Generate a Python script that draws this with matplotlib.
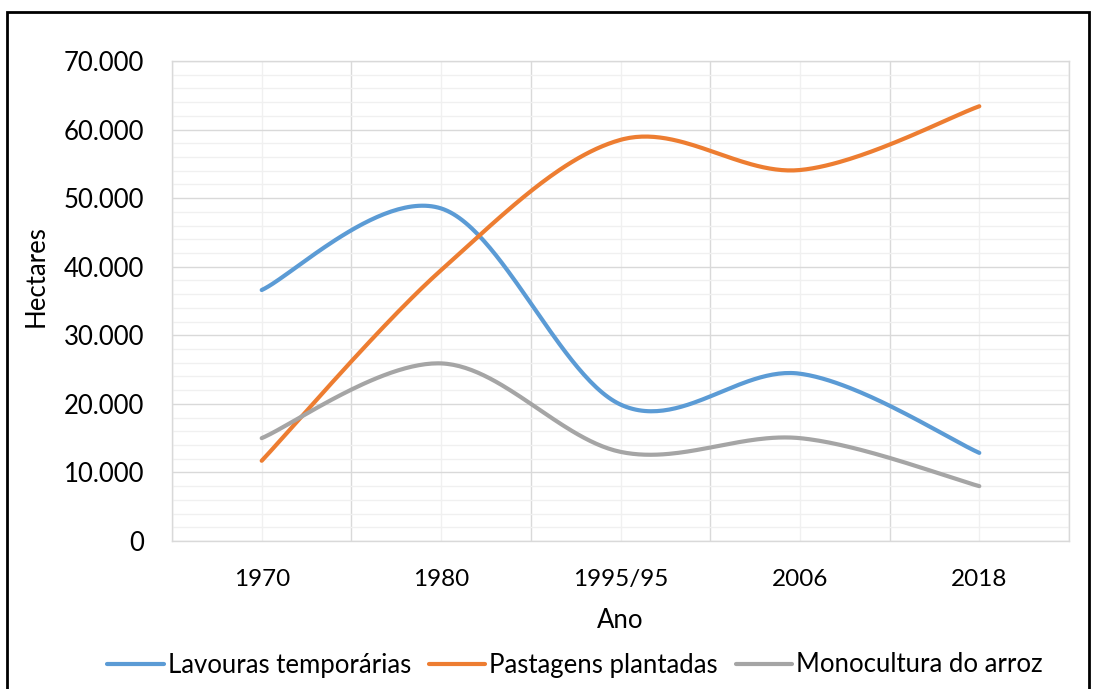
import matplotlib
matplotlib.use("Agg")
import matplotlib.pyplot as plt
import numpy as np
from matplotlib.ticker import FuncFormatter, MultipleLocator, FixedLocator
from matplotlib.patches import Rectangle

categories = ["1970", "1980", "1995/95", "2006", "2018"]
lavouras = [36600, 48500, 19900, 24400, 12850]
pastagens = [11700, 39500, 58500, 54100, 63400]
arroz = [15000, 25900, 13000, 15000, 8000]
series_names = ["Lavouras temporárias", "Pastagens plantadas", "Monocultura do arroz"]
colors = ["#5B9BD5", "#ED7D31", "#A5A5A5"]

plt.rcParams['font.family'] = ['Lato', 'DejaVu Sans']


def smooth(xs, ys, n=60):
    xs = np.asarray(xs, float)
    ys = np.asarray(ys, float)
    P = np.column_stack([xs, ys])
    m = len(P)
    out = []
    for i in range(m - 1):
        p0 = P[i]
        p3 = P[i + 1]
        pm = P[i - 1] if i > 0 else P[i]
        pp = P[i + 2] if i + 2 < m else P[i + 1]
        c1 = p0 + (p3 - pm) / 6.0
        c2 = p3 - (pp - p0) / 6.0
        t = np.linspace(0, 1, n)[:, None]
        b = ((1 - t) ** 3) * p0 + 3 * ((1 - t) ** 2) * t * c1 + 3 * (1 - t) * t ** 2 * c2 + t ** 3 * p3
        out.append(b if i == 0 else b[1:])
    out = np.vstack(out)
    return out[:, 0], out[:, 1]


W, H = 1094, 689
fig = plt.figure(figsize=(W / 100, H / 100), dpi=100)
ax = fig.add_axes([172 / W, 1 - 541 / H, (1069 - 172) / W, (541 - 61) / H])

x = np.arange(len(categories))
for vals, name, c in zip([lavouras, pastagens, arroz], series_names, colors):
    sx, sy = smooth(x, vals)
    ax.plot(sx, sy, color=c, lw=3.0, solid_capstyle='round', label=name, zorder=3)

ax.set_xlim(-0.5, len(categories) - 0.5)
ax.set_ylim(0, 70000)
ax.yaxis.set_major_locator(MultipleLocator(10000))
ax.yaxis.set_minor_locator(MultipleLocator(2000))
ax.yaxis.set_major_formatter(FuncFormatter(lambda v, p: f"{int(v):,}".replace(",", ".")))
ax.set_xticks(x)
ax.set_xticklabels(categories)
ax.xaxis.set_minor_locator(FixedLocator(np.arange(-0.5, len(categories), 1.0)))

ax.grid(which='major', axis='y', color='#D9D9D9', lw=1.0)
ax.grid(which='minor', axis='y', color='#F0F0F0', lw=1.0)
ax.grid(which='minor', axis='x', color='#D9D9D9', lw=1.0)
ax.grid(which='major', axis='x', color='#F0F0F0', lw=1.0)
ax.set_axisbelow(True)
for s in ax.spines.values():
    s.set_color('#D9D9D9')
    s.set_linewidth(1.0)
ax.tick_params(which='both', length=0)
ax.tick_params(axis='y', labelsize=18.5, pad=20, colors='#000000')
ax.tick_params(axis='x', labelsize=17.5, pad=20, colors='#000000')

fig.text(620 / W, 1 - 620 / H, "Ano", ha='center', va='center', fontsize=18.5)
fig.text(36 / W, 1 - 276 / H, "Hectares", ha='center', va='center', rotation=90, fontsize=18.5)

handles, labels = ax.get_legend_handles_labels()
leg = fig.legend(handles, labels, loc='center', bbox_to_anchor=(575 / W, 1 - 665 / H), ncol=3,
                 frameon=False, fontsize=18.5, handlelength=2.2, handletextpad=0.15,
                 columnspacing=0.7, borderaxespad=0)

fig.patches.append(Rectangle((7 / W, -0.1), (1089 - 7) / W, 1.1 - 12 / H, transform=fig.transFigure,
                             fill=False, edgecolor='black', lw=2, clip_on=False))

fig.savefig("out.png", dpi=100)
